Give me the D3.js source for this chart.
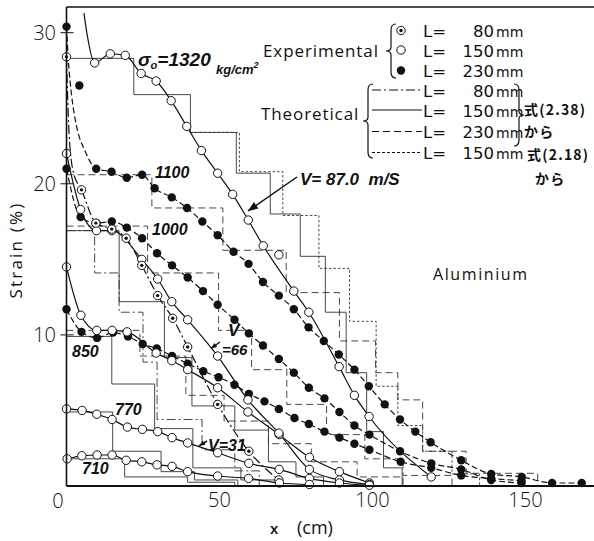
<!DOCTYPE html>
<html>
<head>
<meta charset="utf-8">
<script src="https://cdn.jsdelivr.net/npm/d3@7/dist/d3.min.js"></script>
<style>
  body { margin: 0; background: #fff; }
  svg { display: block; }
</style>
</head>
<body>
<svg id="chart" width="594" height="541"></svg>
<script>
// axis ticks
const xTicks = [50, 100, 150];
const yTicks = [10, 20, 30];

// experimental points [x cm, strain %]
// sigma0 = 1320, L = 150 (open)
const exp1320 = [[9.2,28.0],[14.3,28.6],[19.2,28.5],[24.4,27.3],[29.3,26.8],[34.2,25.5],[39.3,23.8],[44.1,22.2],
  [49.4,20.7],[54.3,19.3],[59.4,17.6],[64.3,15.9],[74.3,12.9],[79.2,11.5],[89.1,7.9],[94.1,6.0],[98.9,4.6],[119.2,0.6]];
const off1320 = [[69.4,15.3]];
const lead1320 = [[5.7,31.3],[6.8,29.8]];

// 1100, L = 230 (filled)
const exp1100 = [[0,30.4],[9.7,21.0],[14.7,20.8],[19.7,20.4],[24.7,20.6],[28.8,19.7],[34.4,19.1],[39.4,18.4],[44.4,17.5],
  [49.4,16.6],[54.6,15.5],[59.5,14.7],[64.2,13.5],[69.4,12.6],[74.3,11.7],[79.1,10.5],[84.1,9.6],[89,8.7],[94.1,7.7],
  [98.8,6.6],[104,5.4],[109,4.4],[114,3.6],[119,2.9],[129,1.7],[138.8,0.8],[148.8,0.6],[158.7,0.2],[168.4,0.2]];
const off1100 = [[4.2,26.5]];
const lead1100 = [[0.6,28.2],[1.7,25.8],[3.3,23.8],[6,22.2]];

// 1000, L = 230 (filled)
const exp1000 = [[0,21.0],[4.6,17.8],[9.8,17.4],[14.8,17.5],[19.7,17.1],[24.7,16.4],[29.6,15.4],[34.5,14.6],[39.6,13.8],
  [44.6,12.9],[49.4,12.0],[54.9,11.0],[59.6,10.1],[64.2,9.3],[69.4,8.4],[74.3,7.5],[79.2,6.5],[84.3,5.8],[89.2,4.9],
  [94.1,4.0],[99,3.4],[109,2.3],[119.2,1.5],[129,1.1],[138.8,0.4],[148.7,0.2]];

// 850, L = 230 (filled)
const exp850 = [[0,11.7],[4.9,10.2],[10,9.8],[15.2,10.15],[20.1,9.9],[24.9,9.4],[29.5,9.1],[34.5,8.6],[39.6,8.1],
  [44.7,7.6],[49.7,7.2],[54.9,6.7],[59.6,6.1],[64.7,5.6],[69.4,5.1],[74.5,4.5],[79.2,4.1],[84.3,3.6],[89.2,3.2],
  [94.1,2.8],[99,2.4],[109.2,1.6],[119.2,1.2],[129,0.7],[138.8,0.5],[148.7,0.35]];

// 850, L = 150 (open)
const open850 = [[0,14.5],[4.7,11.3],[9.9,10.3],[14.9,10.3],[19.8,10.2],[29.3,8.8],[34.4,8.3],[39.6,7.7],[49.4,6.5],
  [59.3,4.9],[69.5,3.4],[79.4,1.9],[89.2,0.95],[99,0.2]];

// V = 66, L = 150 (open)
const openV66 = [[0,22.0],[4.6,18.3],[9.8,16.9],[14.8,16.9],[24.6,15.0],[29.8,13.7],[34.4,12.2],[39.6,11.0],[49.4,8.6],
  [59.3,5.7],[69.4,3.5],[79.4,1.1],[89.2,0.4],[99,0.1]];

// V = 66, L = 80 (dotted circle)
const dotV66 = [[0,28.4],[4.9,19.6],[9.6,17.4],[14.8,17.0],[19.5,16.4],[24.6,14.6],[29.8,12.6],[34.7,11.1],[39.6,9.2],
  [49.4,5.4],[59.6,2.3],[69.4,0.4]];
const leadV66 = [[0.8,23.5],[2.2,20.8]];

// 770 and 710, L = 150 (open)
const open770 = [[0,5.1],[5.1,5.0],[9.9,4.75],[14.9,4.4],[19.9,3.9],[24.8,3.75],[29.8,3.6],[34.5,3.2],[39.6,2.85],
  [49.4,2.2],[59.6,1.5],[69.5,1.1],[79.4,0.5],[89.2,0.2],[99,0.05]];
const open710 = [[0.2,1.8],[5,2.0],[10,2.05],[14.9,2.05],[19.5,1.7],[24.6,1.6],[29.6,1.4],[34.5,1.3],[39.6,0.95],
  [49.4,0.66],[59.5,0.5],[69.6,0.2],[79.4,0.1]];

// theoretical staircases [x start of level, strain]
const step1320Solid = [[0,28.3],[22,25.9],[40.5,23.4],[55.5,20.7],[66.6,18.0],[76.4,15.2],[84.6,11.5],[91.4,7.5],[98.1,3.6],[103.6,1.2],[109.7,0]];
const step1320Dot = [[40.5,23.4],[56.5,20.8],[70.7,17.9],[82.5,14.4],[92.5,10.9],[101.2,6.6],[108.3,4.0],[116.4,2.3],[126,0.8],[135,0]];
const step1100Dash = [[0,20.6],[27.9,18.4],[51.1,15.6],[71.8,12.8],[89.2,9.6],[101,7.5],[108.3,5.7],[116.4,2.3],[130.6,0.84],[154,0]];
const step1000Dash = [[0,17.2],[26.5,14.1],[49.7,10.3],[60.5,7.7],[72,5.4],[85,3.4],[97.5,1.8],[110,0.7],[126,0]];
const stepV66Solid = [[0,16.9],[17.2,12.2],[32,8.5],[41,5.3],[55,3.7],[66,1.6],[75,0.6],[84,0]];
const stepV66DashDot = [[0,16.9],[9.2,14.1],[17.2,11.5],[25,8.2],[29.6,4.4],[44.3,2.4],[55,1.0],[63,0]];
const step850Dash = [[0,10.3],[24,8.6],[39,6.0],[51.5,4.3],[66,2.8],[80,1.6],[95,0.6],[110,0]];
const step850Solid = [[0,9.9],[14.8,6.75],[28.8,3.8],[41.3,1.2],[57,0.4],[70,0]];
const step770Solid = [[0,4.9],[15.1,2.3],[30.9,0.95],[41.8,0.4],[56,0]];
const step710Solid = [[0,1.8],[19,0.6],[39.6,0.25],[55,0]];

// legend rows
const legExpLabels = ["80", "150", "230"];
const legTheoLabels = ["80", "150", "230", "150"];

const svg = d3.select("#chart");
const x = d3.scaleLinear().domain([0, 172.4]).range([66.5, 594]);
const y = d3.scaleLinear().domain([0, 31.7]).range([486, 7]);

const INK = "#111";
const NUM_FONT = "'Open Sans', 'DejaVu Sans', sans-serif";
const LEG_FONT = "'DejaVu Sans', sans-serif";
const HAND_FONT = "'Liberation Sans', Arial, sans-serif";

const dashes = { solid: null, dash: "7,4", dashdot: "9,3,2,3", dot: "2.5,2" };

// staircases
const stepLine = d3.line().x(d => x(d[0])).y(d => y(d[1])).curve(d3.curveStepAfter);
const steps = [
  [step1320Solid, "solid"], [step1320Dot, "dot"], [step1100Dash, "dash"], [step1000Dash, "dash"],
  [stepV66Solid, "solid"], [stepV66DashDot, "dashdot"], [step850Dash, "dash"], [step850Solid, "solid"],
  [step770Solid, "solid"], [step710Solid, "solid"]
];
svg.append("g").selectAll("path")
  .data(steps)
  .enter()
  .append("path")
  .attr("d", d => stepLine(d[0]))
  .attr("fill", "none")
  .attr("stroke", "#333")
  .attr("stroke-width", 0.9)
  .attr("stroke-dasharray", d => dashes[d[1]]);

// experimental curves
const curve = d3.line().x(d => x(d[0])).y(d => y(d[1])).curve(d3.curveMonotoneX);
const series = [
  { pts: exp1320, lead: lead1320, off: off1320, mark: "open", line: "solid" },
  { pts: exp1100, lead: lead1100, off: off1100, mark: "filled", line: "dash" },
  { pts: exp1000, lead: [], off: [], mark: "filled", line: "dash" },
  { pts: exp850, lead: [], off: [], mark: "filled", line: "dash" },
  { pts: open850, lead: [], off: [], mark: "open", line: "solid" },
  { pts: openV66, lead: [], off: [], mark: "open", line: "solid" },
  { pts: dotV66, lead: leadV66, off: [], mark: "dot", line: "dashdot" },
  { pts: open770, lead: [], off: [], mark: "open", line: "solid" },
  { pts: open710, lead: [], off: [], mark: "open", line: "solid" }
];

svg.append("g").selectAll("path")
  .data(series)
  .enter()
  .append("path")
  .attr("d", s => curve(s.pts.concat(s.lead).sort((a, b) => a[0] - b[0])))
  .attr("fill", "none")
  .attr("stroke", INK)
  .attr("stroke-width", 1.2)
  .attr("stroke-dasharray", s => s.line === "dash" ? "6,3" : dashes[s.line]);

function drawMarker(g, cx, cy, kind) {
  if (kind === "filled") {
    g.append("circle").attr("cx", cx).attr("cy", cy).attr("r", 4.2).attr("fill", INK);
  } else {
    g.append("circle").attr("cx", cx).attr("cy", cy).attr("r", 4.2)
      .attr("fill", "#fff").attr("stroke", INK).attr("stroke-width", 1);
    if (kind === "dot") {
      g.append("circle").attr("cx", cx).attr("cy", cy).attr("r", 1.7).attr("fill", INK);
    }
  }
}

const marks = svg.append("g");
series.forEach(s => {
  s.pts.concat(s.off).forEach(p => drawMarker(marks, x(p[0]), y(p[1]), s.mark));
});

// axes frame
svg.append("line").attr("x1", x(0)).attr("x2", 594).attr("y1", 7).attr("y2", 7)
  .attr("stroke", INK).attr("stroke-width", 1.6);
svg.append("line").attr("x1", x(0)).attr("x2", x(0)).attr("y1", 7).attr("y2", y(0))
  .attr("stroke", INK).attr("stroke-width", 1.6);
svg.append("line").attr("x1", x(0)).attr("x2", 594).attr("y1", y(0)).attr("y2", y(0))
  .attr("stroke", INK).attr("stroke-width", 1.8);

// ticks
svg.append("g").selectAll("line")
  .data(yTicks)
  .enter()
  .append("line")
  .attr("x1", x(0) - 6).attr("x2", x(0) + 7)
  .attr("y1", d => y(d)).attr("y2", d => y(d))
  .attr("stroke", INK).attr("stroke-width", 1);
svg.append("g").selectAll("text")
  .data(yTicks)
  .enter()
  .append("text")
  .attr("x", 56)
  .attr("y", d => y(d) + 7)
  .attr("text-anchor", "end")
  .attr("font-family", NUM_FONT).attr("font-weight", 300).attr("font-size", 20)
  .attr("fill", INK)
  .text(d => d);
svg.append("g").selectAll("text")
  .data(xTicks)
  .enter()
  .append("text")
  .attr("x", d => x(d))
  .attr("y", 507)
  .attr("text-anchor", "middle")
  .attr("font-family", NUM_FONT).attr("font-weight", 300).attr("font-size", 20)
  .attr("fill", INK)
  .text(d => d);
svg.append("text").attr("x", 58).attr("y", 508).attr("text-anchor", "middle")
  .attr("font-family", NUM_FONT).attr("font-weight", 300).attr("font-size", 20)
  .attr("fill", INK).text("0");

// axis titles
svg.append("text")
  .attr("transform", "translate(22,250) rotate(-90)")
  .attr("text-anchor", "middle")
  .attr("font-family", NUM_FONT).attr("font-size", 17).attr("letter-spacing", 2.2).attr("fill", INK)
  .text("Strain (%)");
svg.append("text").attr("x", 270).attr("y", 534)
  .attr("font-family", NUM_FONT).attr("font-size", 15).attr("font-weight", 600).attr("fill", INK)
  .text("x");
svg.append("text").attr("x", 297).attr("y", 534)
  .attr("font-family", NUM_FONT).attr("font-size", 18).attr("fill", INK)
  .text("(cm)");

svg.append("text").attr("x", 433).attr("y", 280)
  .attr("font-family", NUM_FONT).attr("font-size", 16).attr("letter-spacing", 1.6).attr("fill", INK)
  .text("Aluminium");

// hand-written annotations
function hand(tx, ty, str, size) {
  return svg.append("text").attr("x", tx).attr("y", ty)
    .attr("font-family", HAND_FONT).attr("font-weight", "bold").attr("font-style", "italic")
    .attr("font-size", size).attr("fill", INK).text(str);
}
const sig = hand(138, 66, "σ", 19);
sig.append("tspan").attr("font-size", 11).attr("dy", 3).text("o");
sig.append("tspan").attr("dy", -3).text("=1320");
const unit = hand(216, 74, "kg/cm", 13);
unit.append("tspan").attr("font-size", 9).attr("dy", -6).text("2");
hand(155, 178, "1100", 16);
hand(152, 235, "1000", 16);
hand(72, 357, "850", 16);
hand(115, 415, "770", 16);
hand(82, 474, "710", 16);
hand(300, 185, "V= 87.0  m/S", 17).style("white-space", "pre");
hand(228, 336, "V", 17);
hand(222, 355, "=66", 15);
hand(208, 451, "V=31", 16);

function arrow(x1, y1, x2, y2, head) {
  const a = Math.atan2(y2 - y1, x2 - x1);
  svg.append("line").attr("x1", x1).attr("y1", y1).attr("x2", x2).attr("y2", y2)
    .attr("stroke", INK).attr("stroke-width", 1.5);
  const p = [[x2, y2],
    [x2 - head * Math.cos(a) + head * 0.4 * Math.sin(a), y2 - head * Math.sin(a) - head * 0.4 * Math.cos(a)],
    [x2 - head * Math.cos(a) - head * 0.4 * Math.sin(a), y2 - head * Math.sin(a) + head * 0.4 * Math.cos(a)]];
  svg.append("path").attr("d", "M" + p.join("L") + "Z").attr("fill", INK);
}
arrow(297, 177, x(59.3), y(18.2), 10);
arrow(220, 342, x(47.2), y(9.1), 6);
arrow(207, 441, x(43.3), y(2.65), 6);

// legend
function brace(bx, y0, y1, dir) {
  const ym = (y0 + y1) / 2;
  const t = 5 * dir;
  return `M${bx + t},${y0} Q${bx},${y0} ${bx},${y0 + 6} L${bx},${ym - 4} Q${bx},${ym} ${bx - t},${ym} ` +
    `Q${bx},${ym} ${bx},${ym + 4} L${bx},${y1 - 6} Q${bx},${y1} ${bx + t},${y1}`;
}
const leg = svg.append("g").attr("fill", INK);
leg.append("text").attr("x", 263).attr("y", 57).attr("font-family", NUM_FONT)
  .attr("font-size", 17).attr("letter-spacing", 0.9).text("Experimental");
leg.append("text").attr("x", 261).attr("y", 120).attr("font-family", NUM_FONT)
  .attr("font-size", 17).attr("letter-spacing", 0.9).text("Theoretical");
leg.append("path").attr("d", brace(391, 24, 78, 1)).attr("fill", "none").attr("stroke", INK).attr("stroke-width", 1.2);
leg.append("path").attr("d", brace(368, 84, 158, 1)).attr("fill", "none").attr("stroke", INK).attr("stroke-width", 1.2);
leg.append("path").attr("d", brace(519, 84, 146, -1)).attr("fill", "none").attr("stroke", INK).attr("stroke-width", 1.2);

const legMarks = ["dot", "open", "filled"];
const legMarkY = [30.5, 50, 70.5];
legMarks.forEach((k, i) => drawMarker(leg, 401, legMarkY[i], k));
const legLines = ["dashdot", "solid", "dash", "dot"];
const legLineY = [90, 110, 131.5, 152.5];
legLines.forEach((k, i) => {
  leg.append("line").attr("x1", 372).attr("x2", 422).attr("y1", legLineY[i]).attr("y2", legLineY[i])
    .attr("stroke", INK).attr("stroke-width", 1).attr("stroke-dasharray", k === "dot" ? "3,2" : dashes[k]);
});
const legLabels = legExpLabels.concat(legTheoLabels);
const legLabelY = [37, 57, 77, 97, 117, 138, 159];
legLabels.forEach((v, i) => {
  const t = leg.append("text").attr("x", 423).attr("y", legLabelY[i])
    .attr("font-family", LEG_FONT).attr("font-size", 16.5);
  t.append("tspan").text("L=");
  t.append("tspan").attr("x", 494).attr("text-anchor", "end").text(v);
  t.append("tspan").attr("x", 496).attr("font-size", 14).text("mm");
});
const jp = svg.append("g").attr("font-family", "'Noto Sans CJK JP', sans-serif").attr("font-weight", "bold")
  .attr("font-size", 14).attr("letter-spacing", 1.2).attr("fill", INK);
jp.append("text").attr("x", 524).attr("y", 115).text("式(2.38)");
jp.append("text").attr("x", 524).attr("y", 137).text("から");
jp.append("text").attr("x", 527).attr("y", 160).text("式(2.18)");
jp.append("text").attr("x", 535).attr("y", 184).text("から");
</script>
</body>
</html>
